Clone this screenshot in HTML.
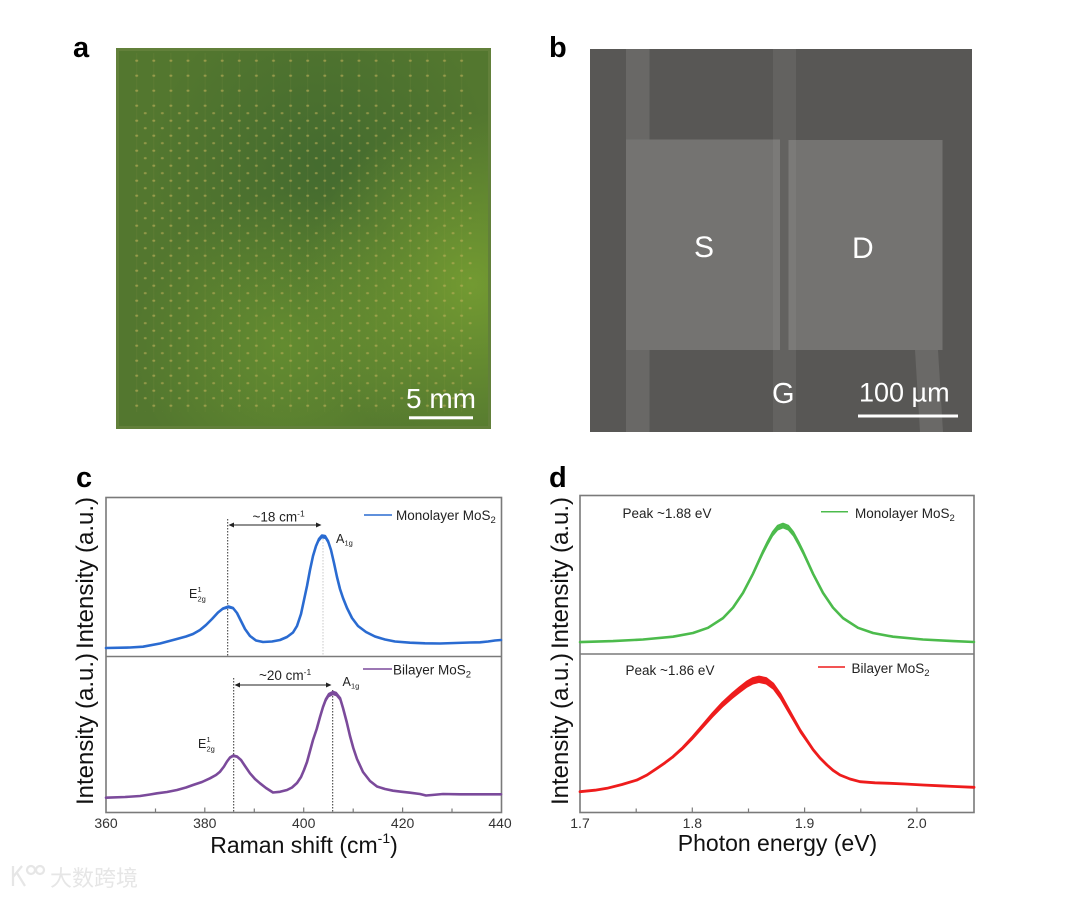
<!DOCTYPE html>
<html><head><meta charset="utf-8">
<style>
html,body{margin:0;padding:0;background:#fff;}
svg{display:block;font-family:"Liberation Sans",Arial,sans-serif;}
</style></head>
<body>
<svg width="1080" height="898" viewBox="0 0 1080 898" xmlns="http://www.w3.org/2000/svg">
<defs>
  <radialGradient id="gA1" cx="0.95" cy="0.62" r="0.45">
    <stop offset="0" stop-color="#78a032" stop-opacity="0.85"/>
    <stop offset="1" stop-color="#78a032" stop-opacity="0"/>
  </radialGradient>
  <radialGradient id="gA2" cx="0.45" cy="0.78" r="0.4">
    <stop offset="0" stop-color="#6a9430" stop-opacity="0.7"/>
    <stop offset="1" stop-color="#6a9430" stop-opacity="0"/>
  </radialGradient>
  <radialGradient id="gA3" cx="0.55" cy="0.3" r="0.45">
    <stop offset="0" stop-color="#436a2f" stop-opacity="0.9"/>
    <stop offset="1" stop-color="#436a2f" stop-opacity="0"/>
  </radialGradient>
  <pattern id="dots1" x="128.15" y="53.2" width="17.1" height="15" patternUnits="userSpaceOnUse">
    <ellipse cx="8.55" cy="7.5" rx="1.5" ry="1.1" fill="#c2b05a" fill-opacity="0.6"/>
    <rect x="8.2" y="0" width="0.7" height="15" fill="#c2b05a" fill-opacity="0.1"/>
  </pattern>
  <pattern id="dots2" x="136.7" y="60.7" width="17.1" height="15" patternUnits="userSpaceOnUse">
    <ellipse cx="8.55" cy="7.5" rx="1.5" ry="1.1" fill="#c2b05a" fill-opacity="0.55"/>
  </pattern>
</defs>

<rect width="1080" height="898" fill="#fff"/>

<!-- Panel labels -->
<text x="73" y="57" font-size="29" font-weight="bold" fill="#000">a</text>
<text x="549" y="57" font-size="29" font-weight="bold" fill="#000">b</text>
<text x="76" y="487" font-size="29" font-weight="bold" fill="#000">c</text>
<text x="549" y="487" font-size="29" font-weight="bold" fill="#000">d</text>

<!-- Panel a -->
<rect x="116" y="48" width="375" height="381" fill="#53772f"/>
<rect x="116" y="48" width="375" height="381" fill="url(#gA3)"/>
<rect x="116" y="48" width="375" height="381" fill="url(#gA2)"/>
<rect x="116" y="48" width="375" height="381" fill="url(#gA1)"/>
<rect x="128" y="53" width="345" height="359" fill="url(#dots1)"/>
<rect x="137" y="112" width="336" height="300" fill="url(#dots2)"/>
<rect x="117.5" y="49.5" width="372" height="378" fill="none" stroke="#62803a" stroke-width="3"/>
<text x="406" y="408" font-size="28" fill="#fff">5 mm</text>
<rect x="409" y="416.3" width="64" height="3" fill="#fff"/>

<!-- Panel b -->
<rect x="590" y="49" width="382" height="383" fill="#585755"/>
<rect x="626" y="49" width="23.5" height="383" fill="#696866"/>
<rect x="773" y="49" width="23" height="383" fill="#636260"/>
<rect x="626" y="139.5" width="154" height="210.5" fill="#747371"/>
<rect x="788.5" y="140" width="154" height="210" fill="#747371"/>
<rect x="773" y="139.5" width="7" height="210.5" fill="#7b7a78"/>
<rect x="788.5" y="140" width="7.5" height="210" fill="#7b7a78"/>
<polygon points="915,350 938,350 943,432 920,432" fill="#6a6967"/>
<text x="694" y="257" font-size="30" fill="#fff">S</text>
<text x="852" y="258" font-size="30" fill="#fff">D</text>
<text x="772" y="403" font-size="29" fill="#fff">G</text>
<text x="859" y="401.5" font-size="27" fill="#fff">100 µm</text>
<rect x="858" y="414.5" width="100" height="3" fill="#fff"/>

<!-- Panel c frame -->
<g fill="none" stroke="#7a7a7a" stroke-width="1.6">
  <rect x="106" y="497.5" width="395.5" height="315"/>
  <line x1="106" y1="656.5" x2="501.5" y2="656.5"/>
</g>
<g stroke="#7a7a7a" stroke-width="1.2">
  <line x1="204.8" y1="812" x2="204.8" y2="807.5"/>
  <line x1="303.7" y1="812" x2="303.7" y2="807.5"/>
  <line x1="402.6" y1="812" x2="402.6" y2="807.5"/>
  <line x1="155.5" y1="812" x2="155.5" y2="808.5"/>
  <line x1="254.3" y1="812" x2="254.3" y2="808.5"/>
  <line x1="353.2" y1="812" x2="353.2" y2="808.5"/>
  <line x1="452" y1="812" x2="452" y2="808.5"/>
</g>
<g font-size="14" fill="#333" text-anchor="middle">
  <text x="106" y="828">360</text>
  <text x="204.8" y="828">380</text>
  <text x="303.7" y="828">400</text>
  <text x="402.6" y="828">420</text>
  <text x="500" y="828">440</text>
</g>
<text x="304" y="853" font-size="23" fill="#111" text-anchor="middle">Raman shift (cm<tspan font-size="14" dy="-10">-1</tspan><tspan dy="10">)</tspan></text>
<text transform="translate(93,573) rotate(-90)" font-size="24" fill="#111" text-anchor="middle">Intensity (a.u.)</text>
<text transform="translate(93,729) rotate(-90)" font-size="24" fill="#111" text-anchor="middle">Intensity (a.u.)</text>

<!-- c dotted lines -->
<g stroke="#333" stroke-width="1" stroke-dasharray="1.5,1.5" fill="none">
  <line x1="227.7" y1="519" x2="227.7" y2="656"/>
  <line x1="233.7" y1="678" x2="233.7" y2="812"/>
  <line x1="332.7" y1="690" x2="332.7" y2="812"/>
</g>
<line x1="323" y1="536" x2="323" y2="656" stroke="#bbb" stroke-width="0.8" stroke-dasharray="1.5,1.5"/>
<!-- arrows -->
<g stroke="#222" stroke-width="1" fill="#222">
  <line x1="232" y1="525" x2="318" y2="525"/>
  <polygon points="228.5,525 234,522.5 234,527.5" stroke="none"/>
  <polygon points="321.5,525 316,522.5 316,527.5" stroke="none"/>
  <line x1="238" y1="685" x2="328" y2="685"/>
  <polygon points="234.5,685 240,682.5 240,687.5" stroke="none"/>
  <polygon points="331.5,685 326,682.5 326,687.5" stroke="none"/>
</g>
<g fill="#222">
  <text x="252.5" y="521.5" font-size="13.5">~18 cm<tspan font-size="8.5" dy="-5">-1</tspan></text>
  <text x="259" y="680" font-size="13.5">~20 cm<tspan font-size="8.5" dy="-5">-1</tspan></text>
  <text x="336" y="543" font-size="12.5">A</text><text x="344.5" y="545.5" font-size="7.5">1g</text>
  <text x="342.5" y="686" font-size="12.5">A</text><text x="351" y="688.5" font-size="7.5">1g</text>
  <text x="189" y="598" font-size="12.5">E</text><text x="197.5" y="592" font-size="7.5">1</text><text x="197.5" y="601.5" font-size="7.5">2g</text>
  <text x="198" y="748" font-size="12.5">E</text><text x="206.5" y="742" font-size="7.5">1</text><text x="206.5" y="751.5" font-size="7.5">2g</text>
</g>

<!-- c legend -->
<line x1="364" y1="515" x2="392" y2="515" stroke="#2a6bd1" stroke-width="1.5"/>
<text x="396" y="520" font-size="13.5" fill="#222">Monolayer MoS<tspan font-size="9.5" dy="3">2</tspan></text>
<line x1="363" y1="669" x2="392" y2="669" stroke="#7b4a9b" stroke-width="1.5"/>
<text x="393" y="674.5" font-size="13.5" fill="#222">Bilayer MoS<tspan font-size="9.5" dy="3">2</tspan></text>

<!-- blue curve -->
<polygon fill="#2a6bd1" points="307,586 310,570 313,556 316,546 319,539 322,535.5 325,536 328,541 331,550 334,563 337,577 340,589 340,590 337,578.5 334,565 331,552.5 328,544 325,539 322,538.5 319,542 316,548.5 313,558 310,571.5 307,587"/>
<polygon fill="#2a6bd1" points="223,608.5 228.5,606.5 233,608 233,609.5 228.5,608.5 223,610"/>
<path fill="none" stroke="#2a6bd1" stroke-width="2.6" stroke-linejoin="round" stroke-linecap="round" d="M106,648 L130,647.5 L143,646.7 L160,643.5 L175,639.5 L186,636.5 L193,634 L200,630 L206,625 L212,619 L218,612.5 L223,608.5 L228.5,606.5 L233,608 L237,613 L241,621 L245,629 L250,636 L256,640.5 L263,642 L272,641.5 L280,640 L287,637 L293,632.5 L297,626 L301,614 L304,600 L307,586 L310,570 L313,556 L316,546 L319,539 L322,535.5 L325,536 L328,541 L331,550 L334,563 L337,577 L340,589 L343,598 L347,608 L352,618 L358,626 L366,632 L375,636.5 L385,639.5 L395,641.5 L410,642.7 L425,643.3 L440,643.5 L455,643 L470,642.5 L480,642.3 L488,641.5 L495,640.5 L501,640"/>

<!-- purple curve -->
<polygon fill="#7b4a9b" points="313,740 316.7,729 320,717 323,707 326,699 329,694 333,692 336,693 340,698 343,708 346.7,722 350,736 353.3,748 353.3,749 350,737.5 346.7,724 343,710.5 340,701 336,696.2 333,695.2 329,697.2 326,702 323,709.5 320,719 316.7,730.5 313,741"/>
<polygon fill="#7b4a9b" points="227,761.5 230,757.5 233.3,755.5 237,756.5 241,760 241,761.5 237,758 233.3,757.3 230,759 227,763"/>
<path fill="none" stroke="#7b4a9b" stroke-width="2.6" stroke-linejoin="round" stroke-linecap="round" d="M106,797.7 L125,797 L140,796 L150,794.5 L157,793.3 L167,792 L177,790 L186,787.5 L193,785 L202,782 L210,778.3 L216,775 L220,771.7 L224,766.5 L227,761.5 L230,757.5 L233.3,755.5 L237,756.5 L241,760 L245,766 L250,773.3 L255,779 L260,783.3 L266,788 L273,792.5 L280,791.8 L287,790 L292,787.5 L297,783 L301,777 L304,770 L307,762 L310,751 L313,740 L316.7,729 L320,717 L323,707 L326,699 L329,694 L333,692 L336,693 L340,698 L343,708 L346.7,722 L350,736 L353.3,748 L357,759 L363,772 L370,781 L377,786.5 L385,789 L393,790.7 L402,791.8 L410,792.7 L420,794 L426,795.5 L432,795 L443,794 L460,794.3 L480,794.3 L501,794.3"/>

<!-- Panel d frame -->
<g fill="none" stroke="#7a7a7a" stroke-width="1.6">
  <rect x="580" y="495.5" width="394" height="317"/>
  <line x1="580" y1="654" x2="974" y2="654"/>
</g>
<g stroke="#7a7a7a" stroke-width="1.2">
  <line x1="692.3" y1="812" x2="692.3" y2="807.5"/>
  <line x1="804.6" y1="812" x2="804.6" y2="807.5"/>
  <line x1="916.9" y1="812" x2="916.9" y2="807.5"/>
  <line x1="636.2" y1="812" x2="636.2" y2="808.5"/>
  <line x1="748.5" y1="812" x2="748.5" y2="808.5"/>
  <line x1="860.8" y1="812" x2="860.8" y2="808.5"/>
</g>
<g font-size="14" fill="#333" text-anchor="middle">
  <text x="580" y="828">1.7</text>
  <text x="692.3" y="828">1.8</text>
  <text x="804.6" y="828">1.9</text>
  <text x="916.9" y="828">2.0</text>
</g>
<text x="777.5" y="851" font-size="23" fill="#111" text-anchor="middle">Photon energy (eV)</text>
<text transform="translate(568,573) rotate(-90)" font-size="24" fill="#111" text-anchor="middle">Intensity (a.u.)</text>
<text transform="translate(568,729) rotate(-90)" font-size="24" fill="#111" text-anchor="middle">Intensity (a.u.)</text>

<text x="622.5" y="518" font-size="13.5" fill="#222">Peak ~1.88 eV</text>
<text x="625.5" y="675" font-size="13.5" fill="#222">Peak ~1.86 eV</text>
<line x1="821" y1="511.7" x2="848" y2="511.7" stroke="#4cbb4c" stroke-width="1.5"/>
<text x="855" y="518" font-size="13.5" fill="#222">Monolayer MoS<tspan font-size="9.5" dy="3">2</tspan></text>
<line x1="818" y1="667" x2="845" y2="667" stroke="#ee1c1c" stroke-width="1.5"/>
<text x="851.5" y="673" font-size="13.5" fill="#222">Bilayer MoS<tspan font-size="9.5" dy="3">2</tspan></text>

<!-- green curve -->
<polygon fill="#4cbb4c" points="733,607.6 743,592.9 753,573.7 763,551.6 768,541.5 773,532.2 778,526 783,524 788,526 793,532.2 798,541.5 803,551.6 813,573.7 823,592.9 833,607.6 833,608.9 823,594.8 813,576.3 803,555.1 798,545.4 793,536.4 788,530.5 783,528.5 778,530.5 773,536.4 768,545.4 763,555.1 753,576.3 743,594.8 733,608.9"/>
<path fill="none" stroke="#4cbb4c" stroke-width="2.6" stroke-linejoin="round" stroke-linecap="round" d="M580,642.1 L613,641.1 L643,639.5 L673,636.7 L693,633 L708,627.8 L723,618.1 L733,607.6 L743,592.9 L753,573.7 L763,551.6 L768,541.5 L773,532.2 L778,526 L783,524 L788,526 L793,532.2 L798,541.5 L803,551.6 L813,573.7 L823,592.9 L833,607.6 L843,618.1 L858,627.8 L873,633 L893,636.7 L923,639.5 L953,641.1 L974,642"/>

<!-- red curve -->
<polygon fill="#ee1c1c" points="673,756.7 683,747.5 693,736.7 703,725 713,713.3 723,702.5 733,693.3 740,687.5 747,682 753,678.5 759,677 766,678.5 773,684 780,694 787,706.7 793,717.5 800,730 807,740.5 813,749.5 820,758 827,765 827,766.2 820,759.6 813,751.6 807,743.1 800,733.2 793,721.3 787,711.1 780,699.1 773,689.6 766,684.5 759,683 753,684.5 747,687.8 740,693 733,698.5 723,707.2 713,717.4 703,728.5 693,739.6 683,749.8 673,758.5"/>
<path fill="none" stroke="#ee1c1c" stroke-width="2.8" stroke-linejoin="round" stroke-linecap="round" d="M580,791.7 L595,790.2 L607,788.3 L622,784.5 L637,780 L647,775 L657,768.3 L665,762.8 L673,756.7 L683,747.5 L693,736.7 L703,725 L713,713.3 L723,702.5 L733,693.3 L740,687.5 L747,682 L753,678.5 L759,677 L766,678.5 L773,684 L780,694 L787,706.7 L793,717.5 L800,730 L807,740.5 L813,749.5 L820,758 L827,765 L833,770.3 L840,775 L850,779 L860,781.7 L875,782.8 L890,783.3 L905,784 L923,785 L940,785.8 L955,786.5 L974,787.3"/>

<!-- watermark -->
<g fill="none" stroke="#e6e6e6" stroke-width="2.2">
  <path d="M13,866 L13,886 M13,877 L22,866 M17,873 L25,886"/>
  <circle cx="31" cy="870" r="4"/>
  <circle cx="40" cy="870" r="4"/>
</g>
<text x="50" y="886" font-size="22" fill="#e6e6e6" font-family="'Noto Sans CJK SC','WenQuanYi Zen Hei',sans-serif">大数跨境</text>
</svg>
</body></html>
